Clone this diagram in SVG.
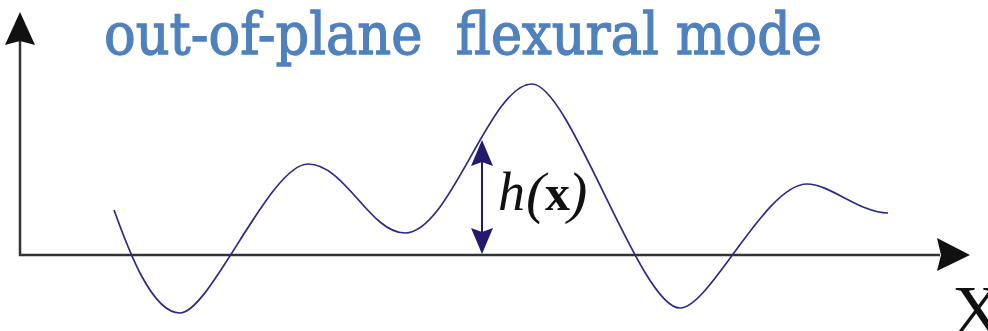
<svg xmlns="http://www.w3.org/2000/svg" width="988" height="331" viewBox="0 0 988 331">
<style>
.axis{stroke:#333;stroke-width:2.5;fill:none}
.head{fill:#111}
.curve{stroke:#2d2a88;stroke-width:1.7;fill:none}
.harrow{stroke:#231a6e;stroke-width:2;fill:none}
.hhead{fill:#231a6e}
.title{font-family:"DejaVu Serif","Liberation Serif",serif;font-size:58px;fill:#4F81BD;stroke:#4F81BD;stroke-width:1.3}
.lbl{font-family:"Liberation Serif","Times New Roman",serif;fill:#111}
</style>
<rect width="988" height="331" fill="#fff"/>
<g id="title">
<text class="title" x="104" y="54" textLength="718" lengthAdjust="spacingAndGlyphs" xml:space="preserve">out-of-plane  flexural mode</text>
</g>
<g id="connectors">
<path class="axis" d="M20,40 V255 H940"/>
<path class="head" d="M20,12 L35,45 L20,41 L5,45 Z"/>
<path class="head" d="M970,255 L937,238 L941,255 L937,271 Z"/>
<path class="harrow" d="M482,160 V234"/>
<path class="hhead" d="M482,140 L493,166 L482,162 L471,166 Z"/>
<path class="hhead" d="M482,254 L493,228 L482,232 L471,228 Z"/>
</g>
<g id="wave">
<path class="curve" d="M114,210 C125,240 150,313 180,313 C210,313 270,164 308,164 C345,164 370,233 405,233 C450,233 490,84 532,84 C570,84 640,308 680,308 C710,308 765,184 807,184 C830,184 860,213 888,213"/>
</g>
<g id="label-h">
<text class="lbl" x="498" y="210" font-size="54" font-style="italic">h</text>
<text class="lbl" x="526" y="212" font-size="58" font-style="italic">(</text>
<text class="lbl" x="545" y="210" font-size="50" font-weight="bold">x</text>
<text class="lbl" x="568" y="212" font-size="58" font-style="italic">)</text>
</g>
<g id="label-X">
<text class="lbl" x="952" y="334" font-size="70">X</text>
</g>
</svg>
